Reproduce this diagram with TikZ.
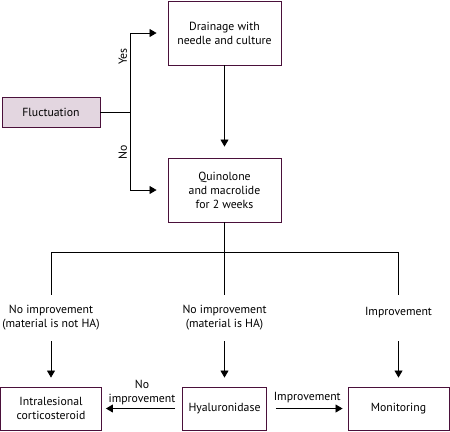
\documentclass[tikz,border=0pt]{standalone}
\usepackage{fontspec}
\setmainfont{PT Sans}
\usepackage{tikz}
\usetikzlibrary{arrows.meta,positioning}
\definecolor{boxline}{RGB}{74,16,58}
\definecolor{boxfill}{RGB}{227,214,224}

\begin{document}
\begin{tikzpicture}[
      x=1bp, y=-1bp,
      font=\fontsize{11.8}{14}\selectfont,
      bx/.style={draw=boxline, line width=0.9bp, align=center, inner sep=2pt},
      lbl/.style={align=center, inner sep=0pt, minimum height=46bp},
      a/.style={-{Triangle[length=7bp,width=8bp]}, line width=0.8bp},
      ln/.style={line width=0.8bp},
    ]
    \useasboundingbox (0,0) rectangle (450,431);
    % start and first decision
    \node[bx, fill=boxfill, minimum width=98bp, minimum height=30bp] (fluct) at (51,112) {Fluctuation};
    \node[bx, minimum width=113bp, minimum height=64bp] (drain) at (224.5,33) {Drainage with\\needle and culture};
    \node[bx, minimum width=113bp, minimum height=64bp] (quin)  at (224.5,190) {Quinolone\\and macrolide\\for 2 weeks};
    % outcomes
    \node[lbl] (lnot) at (51,318)    {No improvement\\(material is not HA)};
    \node[lbl] (lha)  at (224.5,318) {No improvement\\(material is HA)};
    \node[lbl] (limp) at (398.5,318) {Improvement\\\phantom{X}};
    % treatments
    \node[bx, minimum width=101bp, minimum height=43bp] (intra) at (51,408.5)    {Intralesional\\corticosteroid};
    \node[bx, minimum width=84bp,  minimum height=43bp] (hyal)  at (224.5,408.5) {Hyaluronidase};
    \node[bx, minimum width=101bp, minimum height=43bp] (monit) at (398.5,408.5) {Monitoring};

    \draw[ln] (fluct.east) -- ++(30,0) coordinate (fork);
    \draw[a, shorten >=11bp] (fork) |- node[pos=0.35, above, rotate=90, inner sep=3pt] {Yes} (drain.west);
    \draw[a, shorten >=11bp] (fork) |- node[pos=0.26, above, rotate=90, inner sep=3pt] {No} (quin.west);
    \draw[a, shorten >=11bp] (drain) -- (quin);

    \coordinate (split) at (224.5,252);
    \draw[ln] (quin.south) -- (lha.north);
    \draw[ln] (lnot.north) |- (split) -| (limp.north);
    \draw[a, shorten >=9bp] (lnot) -- (intra);
    \draw[a, shorten >=9bp] (lha)  -- (hyal);
    \draw[a, shorten >=9bp] (limp) -- (monit);

    \draw[a, shorten <=7bp, shorten >=4bp] (hyal) -- node[above, align=center, inner sep=3pt] {No\\improvement} (intra);
    \draw[a, shorten <=9bp, shorten >=5bp] (hyal) -- node[above, inner sep=5pt] {Improvement} (monit);
  \end{tikzpicture}
\end{document}
